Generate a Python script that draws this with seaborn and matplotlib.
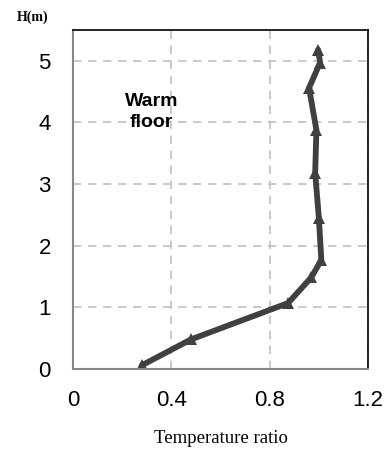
import numpy as np
import pandas as pd
import seaborn as sns
import matplotlib.pyplot as plt

# values
temp_ratio = [0.28, 0.48, 0.875, 0.97, 1.01, 1.0, 0.985, 0.99, 0.96, 1.005, 0.997]
height_m = [0.06, 0.48, 1.07, 1.49, 1.77, 2.45, 3.18, 3.88, 4.56, 4.97, 5.18]
x_ticks = [0, 0.4, 0.8, 1.2]
y_ticks = [0, 1, 2, 3, 4, 5]

df = pd.DataFrame({'ratio': temp_ratio, 'H': height_m})

sns.set_theme(style="white")
plt.rcParams['font.family'] = ['Liberation Sans', 'DejaVu Sans']
plt.rcParams['text.color'] = 'black'

fig = plt.figure(figsize=(3.87, 4.5), dpi=100)
ax = fig.add_axes([0.1886, 0.18, 0.7624, 0.7533])

sns.lineplot(data=df, x='ratio', y='H', sort=False, ax=ax, color='#404040',
             linewidth=4.2, marker='^', markersize=9, markeredgewidth=0)

ax.set_xlim(0, 1.2)
ax.set_ylim(0, 5.5)
ax.set_xticks(x_ticks)
ax.set_xticklabels(['0', '0.4', '0.8', '1.2'])
ax.set_yticks(y_ticks)
ax.tick_params(labelsize=16, labelcolor='black', length=6, width=1.2,
               direction='out', color='#888888')
ax.tick_params(axis='x', pad=9)
ax.tick_params(axis='y', pad=10)
ax.grid(True, linestyle=(0, (5, 4)), color='#c0c0c0', linewidth=1.2)

for side in ['left', 'bottom']:
    ax.spines[side].set_color('#888888')
    ax.spines[side].set_linewidth(1.5)
for side in ['top', 'right']:
    ax.spines[side].set_color('#000000')
    ax.spines[side].set_linewidth(1.2)

ax.set_xlabel('Temperature ratio', fontsize=13.5, family='Liberation Serif',
              labelpad=14, color='black')
ax.set_ylabel('')
ax.text(0.32, 4.17, 'Warm\nfloor', fontsize=14, fontweight='bold', ha='center',
        va='center', linespacing=1.3)
fig.text(0.085, 0.962, 'H(m)', fontsize=10, fontweight='bold', family='Liberation Serif',
         ha='center', va='center')

fig.savefig('out.png', dpi=100)
